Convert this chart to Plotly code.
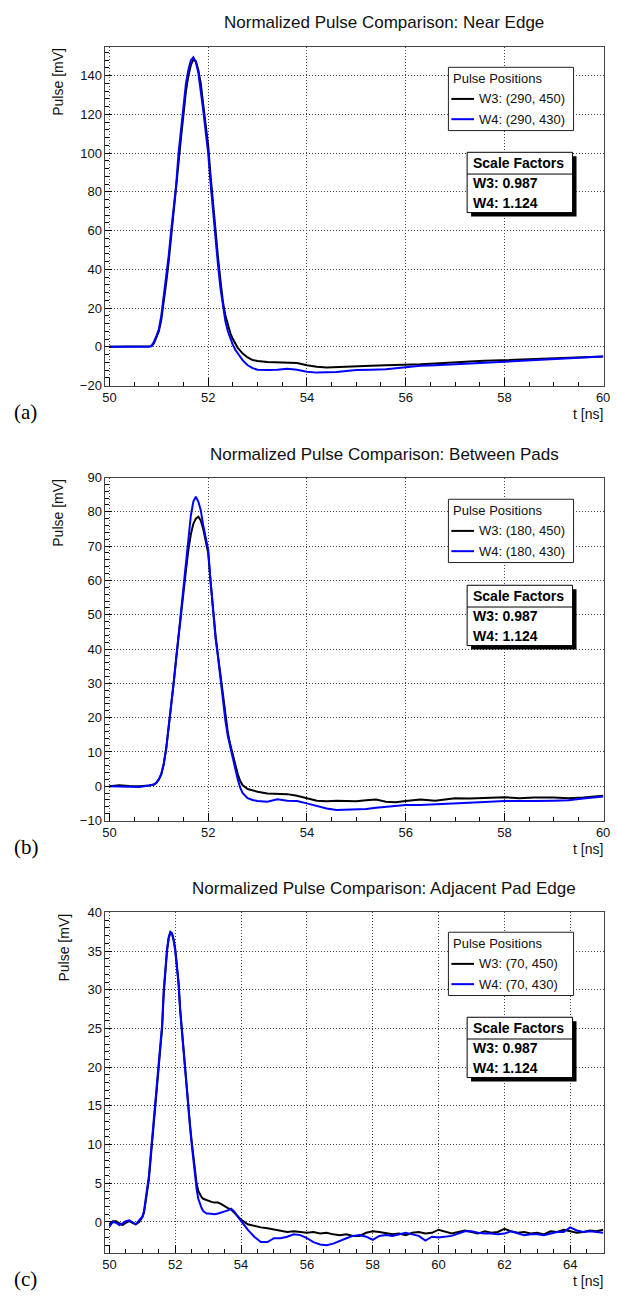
import plotly.graph_objects as go

W, H = 617, 1306

# ---------------- data ----------------
# (a) Near Edge
t_a = [50.0, 50.8, 50.85, 50.9, 50.95, 51.0, 51.05, 51.1, 51.15, 51.2, 51.25, 51.3, 51.35, 51.4,
       51.45, 51.5, 51.55, 51.6, 51.65, 51.7, 51.75, 51.8, 51.85, 51.9, 51.95, 52.0, 52.05, 52.1,
       52.15, 52.2, 52.25, 52.3, 52.35, 52.4, 52.45, 52.5, 52.55, 52.6, 52.7, 52.8, 52.9, 53.0,
       53.2, 53.4, 53.6, 53.8, 54.0, 54.2, 54.4, 54.6, 54.8, 55.0, 55.3, 55.6, 56.0, 56.3, 56.6,
       57.0, 57.3, 57.6, 58.0, 58.4, 58.8, 59.2, 59.6, 60.0]
w3_a = [0, 0, 0.3, 1.8, 4.5, 8, 14, 23, 33, 44, 56, 68, 80, 95,
        108, 120, 132, 140, 145.5, 148.3, 147.5, 143, 136, 125, 114, 104, 88, 73,
        59, 46, 34, 23, 16, 11, 7, 4, 1.5, -0.5, -3.5, -5.5, -6.8, -7.3,
        -7.8, -8, -8, -8.3, -9.5, -10.3, -10.6, -10.5, -10.2, -10, -9.8, -9.5, -9.3, -9, -8.6,
        -7.8, -7.5, -7.2, -6.8, -6.5, -6.2, -5.9, -5.5, -5]
w4_a = [0, 0, 0.5, 2.5, 5.5, 9, 16, 26, 36, 47, 60, 71, 83, 100,
        112, 125, 136, 143, 148, 149.5, 147, 141.5, 133, 122, 111, 100, 84, 69,
        55, 42, 30, 20, 13, 8, 4, 1, -1.5, -3.5, -7, -9.5, -11, -11.8,
        -12, -11.8, -11.3, -11.8, -12.8, -13.3, -13.3, -13, -12.5, -12, -11.8, -11.5, -10.5, -9.8, -9.5,
        -9, -8.7, -8.3, -7.5, -7, -6.5, -6.2, -5.6, -5]

# (b) Between Pads
t_b = [50.0, 50.2, 50.4, 50.6, 50.8, 50.9, 50.95, 51.0, 51.05, 51.1, 51.15, 51.2, 51.25, 51.3,
       51.35, 51.4, 51.45, 51.5, 51.55, 51.6, 51.65, 51.7, 51.75, 51.8, 51.85, 51.9, 51.95, 52.0,
       52.05, 52.1, 52.15, 52.2, 52.25, 52.3, 52.35, 52.4, 52.45, 52.5, 52.55, 52.6, 52.65, 52.7,
       52.8, 52.9, 53.0, 53.2, 53.4, 53.6, 53.8, 54.0, 54.2, 54.4, 54.6, 54.8, 55.0, 55.2, 55.4,
       55.6, 55.8, 56.0, 56.3, 56.6, 57.0, 57.3, 57.6, 58.0, 58.3, 58.6, 59.0, 59.3, 59.6, 60.0]
w3_b = [0, 0.3, 0.1, 0, 0.2, 0.5, 1, 2, 3.5, 6.5, 11, 17, 23, 30,
        37, 44, 51, 57, 63, 69, 73.5, 76.5, 78, 78.6, 77.5, 75, 71.5, 68,
        59.5, 51, 44, 38, 32, 26, 20, 15.5, 12, 9, 6, 3.5, 1.5, 0.3,
        -0.8, -1.3, -1.6, -2.1, -2.2, -2.3, -2.8, -3.6, -4.2, -4.4, -4.2, -4.3, -4.4, -4.1, -3.9,
        -4.5, -4.7, -4.3, -3.9, -4.2, -3.5, -3.6, -3.5, -3.2, -3.5, -3.3, -3.3, -3.5, -3.3, -2.8]
w4_b = [0, 0, 0, -0.2, 0.2, 0.5, 1, 2, 3.5, 6.5, 11, 17, 23, 30,
        37, 44, 51.5, 58, 65, 72, 79, 83, 84.4, 83, 80.5, 76, 72.5, 69,
        59.5, 50, 43, 37.5, 31, 25, 19, 14.5, 11, 8, 5, 2, -0.5, -2,
        -3.5, -4, -4.3, -4.5, -3.8, -4.2, -4.3, -5, -5.8, -6.5, -6.9, -6.8, -6.9, -6.6, -6.3,
        -6, -5.8, -5.5, -5.5, -5.3, -5.2, -4.8, -4.6, -4.3, -4.4, -4.3, -4.2, -4.1, -3.6, -3]

# (c) Adjacent Pad Edge
t_c = [50.0, 50.1, 50.2, 50.3, 50.4, 50.5, 50.6, 50.7, 50.8, 50.9, 51.0,
       51.05, 51.1, 51.15, 51.2, 51.25, 51.3, 51.35, 51.4, 51.45, 51.5, 51.55, 51.6, 51.65,
       51.7, 51.75, 51.8, 51.85, 51.9, 51.95, 52.0, 52.05, 52.1, 52.15, 52.2, 52.25, 52.3,
       52.35, 52.4, 52.45, 52.5, 52.55, 52.6, 52.65, 52.7, 52.75, 52.8, 52.85, 52.9, 52.95,
       53.0, 53.1, 53.2, 53.3, 53.4, 53.5, 53.6, 53.7, 53.8, 53.9, 54.0,
       54.2, 54.4, 54.6, 54.8, 55.0, 55.2, 55.4, 55.6, 55.8, 56.0, 56.2, 56.4, 56.6, 56.8,
       57.0, 57.2, 57.4, 57.6, 57.8, 58.0, 58.2, 58.4, 58.6, 58.8, 59.0, 59.2, 59.4, 59.6,
       59.8, 60.0, 60.2, 60.4, 60.6, 60.8, 61.0, 61.2, 61.4, 61.6, 61.8, 62.0, 62.2, 62.4,
       62.6, 62.8, 63.0, 63.2, 63.4, 63.6, 63.8, 64.0, 64.2, 64.4, 64.6, 64.8, 65.0]
w3_c = [-0.3, 0.1, 0.1, -0.1, -0.4, -0.1, 0.1, -0.1, -0.3, 0.0, 0.6,
        1.2, 2.5, 3.8, 5.5, 8.0, 10.5, 13.0, 15.0, 17.5, 20.5, 23.0, 25.0, 29.5,
        32.5, 35.0, 36.6, 37.4, 37.3, 36.5, 35.3, 33.2, 31.0, 27.5, 24.8, 22.2, 19.6,
        17.0, 14.6, 12.5, 10.4, 8.3, 6.4, 4.9, 4.0, 3.5, 3.2, 3.0, 2.9, 2.8,
        2.7, 2.6, 2.5, 2.5, 2.3, 2.0, 1.8, 1.6, 1.2, 0.8, 0.3,
        -0.3, -0.5, -0.7, -0.8, -1.0, -1.1, -1.3, -1.2, -1.3, -1.4, -1.3, -1.5, -1.4, -1.6,
        -1.7, -1.6, -1.8, -1.8, -1.4, -1.2, -1.3, -1.5, -1.6, -1.5, -1.7, -1.4, -1.3, -1.5,
        -1.4, -1.0, -1.2, -1.5, -1.3, -1.1, -1.3, -1.5, -1.2, -1.4, -1.3, -0.9, -1.2, -1.4,
        -1.3, -1.5, -1.4, -1.6, -1.2, -1.3, -1.0, -1.2, -1.4, -1.3, -1.1, -1.2, -1.0]
w4_c = [-0.6, 0.0, -0.1, -0.4, -0.2, 0.1, 0.2, -0.1, -0.3, 0.2, 0.7,
        1.4, 2.8, 4.2, 6.0, 8.5, 11.0, 13.5, 15.5, 18.0, 21.0, 23.5, 25.5, 30.0,
        33.0, 35.3, 36.8, 37.5, 37.3, 36.4, 35.0, 33.0, 30.8, 27.2, 24.5, 22.0, 19.4,
        16.8, 14.4, 12.2, 10.0, 7.9, 5.8, 4.2, 3.0, 2.3, 1.8, 1.4, 1.2, 1.1,
        1.1, 1.0, 1.0, 1.1, 1.2, 1.3, 1.5, 1.7, 1.3, 0.7, 0.1,
        -1.0, -1.9, -2.6, -2.6, -2.1, -2.1, -1.9, -1.6, -1.7, -2.1, -2.6, -2.9, -3.0, -2.8,
        -2.4, -2.1, -1.8, -1.7, -1.9, -2.3, -1.8, -1.7, -1.8, -1.6, -1.4, -1.6, -1.8, -2.4,
        -1.9, -2.0, -1.9, -1.8, -1.5, -1.2, -1.2, -1.4, -1.5, -1.5, -1.6, -1.5, -1.2, -1.5,
        -1.7, -1.6, -1.6, -1.7, -1.5, -1.3, -1.3, -0.7, -1.1, -1.3, -1.2, -1.3, -1.4]

titles = ["Normalized Pulse Comparison: Near Edge",
          "Normalized Pulse Comparison: Between Pads",
          "Normalized Pulse Comparison: Adjacent Pad Edge"]
legend_w3 = ["W3: (290, 450)", "W3: (180, 450)", "W3: (70, 450)"]
legend_w4 = ["W4: (290, 430)", "W4: (180, 430)", "W4: (70, 430)"]
scale_lines = ["W3: 0.987", "W4: 1.124"]
panel_tags = ["(a)", "(b)", "(c)"]

# ---------------- layout geometry (pixels) ----------------
frame_l, frame_r = 104, 610
frames = [(40, 383), (476, 823), (916, 1260)]          # top, bottom
xranges = [[49.92, 60.02], [49.92, 60.02], [49.88, 65.03]]
yranges = [[-20, 155], [-10, 90], [-3.95, 40]]
ydticks = [20, 10, 5]
yminor = [4, 2, 1]
title_y = [16, 453, 892]
leg_top = [61, 498, 936]
sf_top = [147, 585, 1022]
ytitle_x = [55, 55, 62]


def px(x):
    return x / W


def py(y):
    return 1 - y / H


FONT = "Liberation Sans, Arial, Helvetica, sans-serif"
GRID_DASH = "1px,2px"

fig = go.Figure()
series = [(t_a, w3_a, w4_a), (t_b, w3_b, w4_b), (t_c, w3_c, w4_c)]
for i, (t, w3, w4) in enumerate(series):
    sfx = "" if i == 0 else str(i + 1)
    fig.add_trace(go.Scatter(x=t, y=w3, mode="lines", line=dict(color="#000000", width=2),
                             xaxis="x" + sfx, yaxis="y" + sfx, showlegend=False))
    fig.add_trace(go.Scatter(x=t, y=w4, mode="lines", line=dict(color="#0000ff", width=2),
                             xaxis="x" + sfx, yaxis="y" + sfx, showlegend=False))

axis_common = dict(showline=True, linecolor="#444", linewidth=1, mirror=True,
                   showgrid=True, gridcolor="#444", gridwidth=1, griddash=GRID_DASH,
                   zeroline=False, ticks="inside", tickcolor="#000", tickwidth=1,
                   tickfont=dict(family=FONT, size=13, color="#111"))

layout = dict(width=W, height=H, margin=dict(l=0, r=0, t=0, b=0, pad=0),
              paper_bgcolor="white", plot_bgcolor="white", showlegend=False)

shapes = []
annotations = []
for i in range(3):
    top, bot = frames[i]
    sfx = "" if i == 0 else str(i + 1)
    layout["xaxis" + sfx] = dict(axis_common, domain=[px(frame_l), px(frame_r)],
                                 range=xranges[i], dtick=2, tick0=50, ticklen=8,
                                 anchor="y" + sfx,
                                 minor=dict(dtick=0.5, tick0=50, ticks="inside", ticklen=4,
                                            tickcolor="#000", tickwidth=1, showgrid=False))
    layout["yaxis" + sfx] = dict(axis_common, domain=[py(bot), py(top)],
                                 range=yranges[i], dtick=ydticks[i], tick0=0, ticklen=7,
                                 anchor="x" + sfx,
                                 minor=dict(dtick=yminor[i], tick0=0, ticks="inside", ticklen=4,
                                            tickcolor="#000", tickwidth=1, showgrid=False))

    # title
    annotations.append(dict(text=titles[i], x=px(387), y=py(title_y[i]), xref="paper", yref="paper",
                            xanchor="center", yanchor="middle", showarrow=False,
                            font=dict(family=FONT, size=17, color="#111")))
    # y title
    annotations.append(dict(text="Pulse [mV]", x=px(ytitle_x[i]), y=py(top - 1), xref="paper",
                            yref="paper", xanchor="center", yanchor="top", textangle=-90,
                            showarrow=False, font=dict(family=FONT, size=14, color="#111")))
    # x title
    annotations.append(dict(text="t [ns]", x=px(611), y=py(bot + 29), xref="paper", yref="paper",
                            xanchor="right", yanchor="middle", showarrow=False,
                            font=dict(family=FONT, size=14, color="#111")))
    # panel tag
    annotations.append(dict(text=panel_tags[i], x=px(9), y=py(bot + 27), xref="paper", yref="paper",
                            xanchor="left", yanchor="middle", showarrow=False,
                            font=dict(family="Liberation Serif, Times New Roman, serif", size=21,
                                      color="#000")))

    # legend box
    lt = leg_top[i]
    shapes.append(dict(type="rect", xref="paper", yref="paper", x0=px(452), x1=px(579),
                       y0=py(lt + 64), y1=py(lt), line=dict(color="#222", width=1),
                       fillcolor="white", layer="above"))
    annotations.append(dict(text="Pulse Positions", x=px(455), y=py(lt + 11), xref="paper",
                            yref="paper", xanchor="left", yanchor="middle", showarrow=False,
                            font=dict(family=FONT, size=13, color="#111")))
    for j, (lab, col) in enumerate([(legend_w3[i], "#000000"), (legend_w4[i], "#0000ff")]):
        yy = lt + 32 + 20.5 * j
        shapes.append(dict(type="line", xref="paper", yref="paper", x0=px(455), x1=px(478),
                           y0=py(yy), y1=py(yy), line=dict(color=col, width=2), layer="above"))
        annotations.append(dict(text=lab, x=px(481), y=py(yy), xref="paper", yref="paper",
                                xanchor="left", yanchor="middle", showarrow=False,
                                font=dict(family=FONT, size=13, color="#111")))

    # scale factors box with shadow
    st = sf_top[i]
    shapes.append(dict(type="rect", xref="paper", yref="paper", x0=px(475), x1=px(582),
                       y0=py(st + 65), y1=py(st + 4), line=dict(width=0),
                       fillcolor="black", layer="above"))
    shapes.append(dict(type="rect", xref="paper", yref="paper", x0=px(471), x1=px(578),
                       y0=py(st + 61), y1=py(st), line=dict(color="black", width=1),
                       fillcolor="white", layer="above"))
    shapes.append(dict(type="line", xref="paper", yref="paper", x0=px(471), x1=px(578),
                       y0=py(st + 22), y1=py(st + 22), line=dict(color="black", width=1),
                       layer="above"))
    annotations.append(dict(text="<b>Scale Factors</b>", x=px(475), y=py(st + 11), xref="paper",
                            yref="paper", xanchor="left", yanchor="middle", showarrow=False,
                            font=dict(family=FONT, size=14, color="#000")))
    for j, lab in enumerate(scale_lines):
        annotations.append(dict(text="<b>" + lab + "</b>", x=px(475), y=py(st + 31 + 20.5 * j),
                                xref="paper", yref="paper", xanchor="left", yanchor="middle",
                                showarrow=False, font=dict(family=FONT, size=14, color="#000")))

layout["shapes"] = shapes
layout["annotations"] = annotations
fig.update_layout(**layout)
fig.write_html("out.html")
